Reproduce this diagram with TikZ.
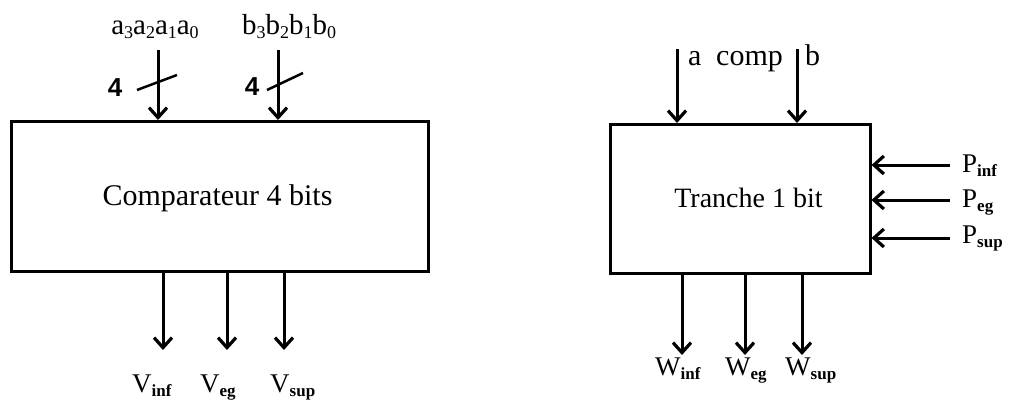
\documentclass[tikz,border=0pt]{standalone}
\usepackage{fontspec}
\setmainfont{Liberation Serif}
\newfontfamily\sansf{Liberation Sans}
\usetikzlibrary{arrows.meta}
\newcommand{\lsub}[1]{\raisebox{-4pt}{\fontsize{17}{17}\selectfont\bfseries #1}}
\newcommand{\dsub}[1]{\raisebox{-4pt}{\fontsize{18}{18}\selectfont #1}}
\tikzset{
  blk/.style={draw, line width=3pt, inner sep=0pt},
  arr/.style={line width=3pt, -{Straight Barb[length=10pt,width=18pt,line width=3.2pt]}},
  lbl/.style={inner sep=0pt, font=\fontsize{27}{27}\selectfont},
  four/.style={inner sep=0pt, font=\sansf\bfseries\fontsize{26}{26}\selectfont},
  slash/.style={line width=2.5pt},
  btxt/.style={inner sep=0pt, anchor=base}
}
\begin{document}
\begin{tikzpicture}[x=1pt,y=-1pt]
\useasboundingbox (0,0) rectangle (1010,400);
% left block
\node[blk, minimum width=417.5pt, minimum height=150pt] (cmp) at (220,196.5) {};
\node[btxt, font=\fontsize{30}{30}\selectfont] (cmpt) at (217.5,205) {Comparateur 4 bits};
\coordinate (ain) at (158,50);
\coordinate (bin) at (278,50);
\draw[arr] (ain) -- (ain |- cmp.north);
\draw[arr] (bin) -- (bin |- cmp.north);
\node[lbl, anchor=base, font=\fontsize{29}{29}\selectfont] (alab) at (155,34) {a\dsub{3}a\dsub{2}a\dsub{1}a\dsub{0}};
\node[lbl, anchor=base, font=\fontsize{29}{29}\selectfont] (blab) at (289,34) {b\dsub{3}b\dsub{2}b\dsub{1}b\dsub{0}};
\node[four] (n4a) at (115,87.5) {4};
\node[four] (n4b) at (252,87) {4};
\draw[slash] (137,90) -- (177,75);
\draw[slash] (267,90) -- (303,73);
\coordinate (vi) at (163,350);
\coordinate (ve) at (227,350);
\coordinate (vs) at (284,350);
\draw[arr] (vi |- cmp.south) -- (vi);
\draw[arr] (ve |- cmp.south) -- (ve);
\draw[arr] (vs |- cmp.south) -- (vs);
\node[lbl, anchor=base west] (vil) at (132,392) {V\lsub{inf}};
\node[lbl, anchor=base west] (vel) at (200,392) {V\lsub{eg}};
\node[lbl, anchor=base west] (vsl) at (270,392) {V\lsub{sup}};
% right block
\node[blk, minimum width=260pt, minimum height=149pt] (tr) at (740,199) {};
\node[btxt, font=\fontsize{28}{28}\selectfont] (trt) at (748.5,207) {Tranche 1 bit};
\coordinate (ta) at (677,49);
\coordinate (tb) at (797,49);
\draw[arr] (ta) -- (ta |- tr.north);
\draw[arr] (tb) -- (tb |- tr.north);
\node[lbl, anchor=base west, font=\fontsize{30}{30}\selectfont] (tal) at (688,65) {a};
\node[lbl, anchor=base west, font=\fontsize{30}{30}\selectfont] (tcl) at (716,65) {comp};
\node[lbl, anchor=base west, font=\fontsize{30}{30}\selectfont] (tbl) at (805,65) {b};
\coordinate (pi) at (950,165);
\coordinate (pe) at (950,200);
\coordinate (ps) at (950,238);
\draw[arr] (pi) -- (pi -| tr.east);
\draw[arr] (pe) -- (pe -| tr.east);
\draw[arr] (ps) -- (ps -| tr.east);
\node[lbl, anchor=base west] (pil) at (962,172) {P\lsub{inf}};
\node[lbl, anchor=base west] (pel) at (962,207) {P\lsub{eg}};
\node[lbl, anchor=base west] (psl) at (962,243) {P\lsub{sup}};
\coordinate (wi) at (682,355);
\coordinate (we) at (745,355);
\coordinate (ws) at (802,355);
\draw[arr] (wi |- tr.south) -- (wi);
\draw[arr] (we |- tr.south) -- (we);
\draw[arr] (ws |- tr.south) -- (ws);
\node[lbl, anchor=base west] (wil) at (655,375) {W\lsub{inf}};
\node[lbl, anchor=base west] (wel) at (725,375) {W\lsub{eg}};
\node[lbl, anchor=base west] (wsl) at (785,375) {W\lsub{sup}};
\end{tikzpicture}
\end{document}
